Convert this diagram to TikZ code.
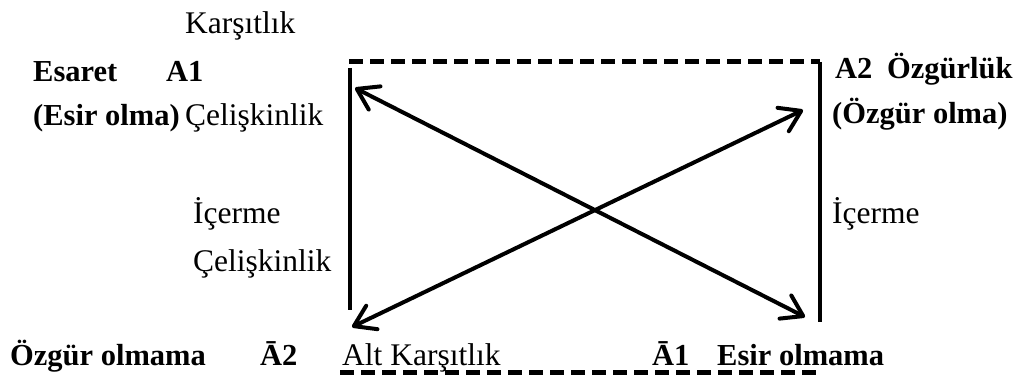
\documentclass[tikz,border=0pt]{standalone}
\usepackage{fontspec}
\setmainfont{Liberation Serif}
\usetikzlibrary{arrows.meta}
\begin{document}
\begin{tikzpicture}[x=1pt,y=-1pt,
  lbl/.style={inner sep=0pt,anchor=base west,font=\fontsize{31.5}{36}\selectfont},
  blbl/.style={lbl,font=\fontsize{30.5}{36}\selectfont\bfseries},
  solidline/.style={line width=4.5pt},
  dashline/.style={line width=5pt,dash pattern=on 14pt off 7pt},
  diag/.style={line width=4pt,line cap=round,
    {Straight Barb[length=20pt,width=26pt,line width=4pt,round]}-{Straight Barb[length=20pt,width=26pt,line width=4pt,round]}}]
\useasboundingbox (0,0) rectangle (1035,377);
% corners
\coordinate (tl) at (349,62);
\coordinate (tr) at (820,62);
\coordinate (ltop) at (350,68);
\coordinate (lbot) at (350,310);
\coordinate (rtop) at (820,62);
\coordinate (rbot) at (820,322);
\coordinate (bl) at (340,372);
\coordinate (br) at (823,372);
\coordinate (a1) at (355,88);
\coordinate (a1b) at (805,317);
\coordinate (a2) at (803,110);
\coordinate (a2b) at (352,327);
% frame
\draw[dashline] (tl) -- (tr);
\draw[solidline] (rtop) -- (rbot);
\draw[solidline] (ltop) -- (lbot);
\draw[dashline] (bl) -- (br);
% diagonals
\draw[diag] (a1) -- (a1b);
\draw[diag] (a2b) -- (a2);
% labels
\node[lbl] (kars) at (185,34) {Karşıtlık};
\node[blbl] (esaret) at (33,82) {Esaret};
\node[blbl] (A1) at (166,82) {A1};
\node[blbl] (esirolma) at (33,125) {(Esir olma)};
\node[lbl] (cel1) at (185,125) {Çelişkinlik};
\node[lbl] (icer1) at (193,223) {İçerme};
\node[lbl] (cel2) at (193,271) {Çelişkinlik};
\node[blbl] (A2) at (835,79) {A2};
\node[blbl] (ozg) at (887,79) {Özgürlük};
\node[blbl] (ozgolma) at (832,124) {(Özgür olma)};
\node[lbl] (icer2) at (832,223) {İçerme};
\node[blbl] (ozgolmama) at (10,365) {Özgür olmama};
\node[blbl] (nA2) at (260,365) {Ā2};
\node[lbl] (altk) at (342,365) {Alt Karşıtlık};
\node[blbl] (nA1) at (652,365) {Ā1};
\node[blbl] (esirolmama) at (717,365) {Esir olmama};
\end{tikzpicture}
\end{document}
